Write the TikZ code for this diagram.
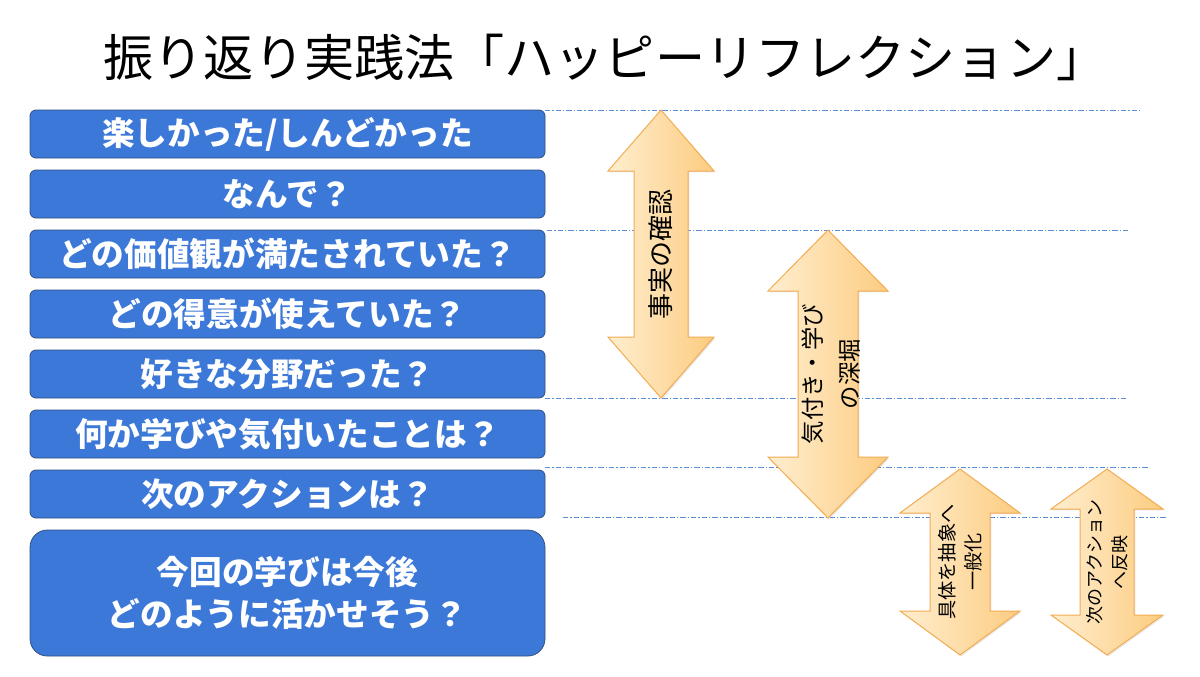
\documentclass[tikz,border=0pt]{standalone}
\usepackage{fontspec}
\setmainfont{Noto Sans CJK JP}
\usetikzlibrary{shadows}
\definecolor{boxfill}{RGB}{60,120,216}
\definecolor{boxline}{RGB}{50,80,130}
\definecolor{guide}{RGB}{91,142,214}
\definecolor{arrL}{RGB}{255,238,208}
\definecolor{arrR}{RGB}{252,204,128}
\definecolor{arrD}{RGB}{243,172,82}
\tikzset{
  qbox/.style={draw=boxline, line width=0.6pt, fill=boxfill, rounded corners=4.5pt,
    minimum width=386.25pt, minimum height=36pt, inner sep=0pt, text=white,
    font=\fontsize{24.5}{31.5}\selectfont\bfseries, align=center},
  guideline/.style={draw=guide, line width=0.75pt, dash pattern=on 4pt off 1.6pt on 0.8pt off 1.6pt},
  arrowshape/.style={draw=arrD, line width=0.75pt, left color=arrL, right color=arrR,
    drop shadow={opacity=0.18, shadow xshift=1pt, shadow yshift=-1pt}},
  arrtext/.style={rotate=90, align=center, text=black, inner sep=0pt}
}
\newcommand\dblarrow[7]{%
  \path[arrowshape] (#2,#3) -- (#2+#5,#3+#7) -- (#2+#6,#3+#7) -- (#2+#6,#4-#7)
    -- (#2+#5,#4-#7) -- (#2,#4) -- (#2-#5,#4-#7) -- (#2-#6,#4-#7)
    -- (#2-#6,#3+#7) -- (#2-#5,#3+#7) -- cycle;
  \coordinate (#1) at (#2,{(#3+#4)/2});}
\begin{document}
\begin{tikzpicture}[x=0.75pt,y=-0.75pt]
\useasboundingbox[fill=white] (0,0) rectangle (1200,676);

% title
\node[font=\fontsize{37.6}{40}\selectfont] (title) at (605,57) {振り返り実践法「ハッピーリフレクション」};

% guide lines
\coordinate (g1a) at (545,110); \coordinate (g1b) at (1140,110);
\coordinate (g2a) at (547,230); \coordinate (g2b) at (1128,230);
\coordinate (g3a) at (545,398); \coordinate (g3b) at (1128,398);
\coordinate (g4a) at (545,467); \coordinate (g4b) at (1148,467);
\coordinate (g5a) at (563,517); \coordinate (g5b) at (1167,517);
\foreach \i in {1,...,5} { \draw[guideline] (g\i a) -- (g\i b); }

% question boxes
\node[qbox] (q1) at (287.5,134) {楽しかった/しんどかった};
\node[qbox] (q2) at (287.5,194) {なんで？};
\node[qbox] (q3) at (287.5,254) {どの価値観が満たされていた？};
\node[qbox] (q4) at (287.5,314) {どの得意が使えていた？};
\node[qbox] (q5) at (287.5,374) {好きな分野だった？};
\node[qbox] (q6) at (287.5,434) {何か学びや気付いたことは？};
\node[qbox] (q7) at (287.5,494) {次のアクションは？};
\node[qbox, minimum height=94.5pt, rounded corners=13pt] (q8) at (287.5,593)
  {今回の学びは今後\\どのように活かせそう？};

% double arrows
\dblarrow{a1}{661}{110}{398}{53}{27}{61}
\dblarrow{a2}{828}{230}{518}{60}{30}{61}
\dblarrow{a3}{960}{469}{655}{60}{30}{44}
\dblarrow{a4}{1107}{469}{655}{56}{27}{40}

\node[arrtext, font=\fontsize{19.5}{24}\selectfont] (t1) at (a1) {事実の確認};
\node[arrtext, font=\fontsize{17.5}{27.75}\selectfont] (t2) at ([xshift=2.5pt]a2) {気付き・学び\\の深堀};
\node[arrtext, font=\fontsize{14.4}{19.5}\selectfont] (t3) at (a3) {具体を抽象へ\\一般化};
\node[arrtext, font=\fontsize{13.5}{18.75}\selectfont] (t4) at ([xshift=0.5pt]a4) {次のアクション\\へ反映};
\end{tikzpicture}
\end{document}
